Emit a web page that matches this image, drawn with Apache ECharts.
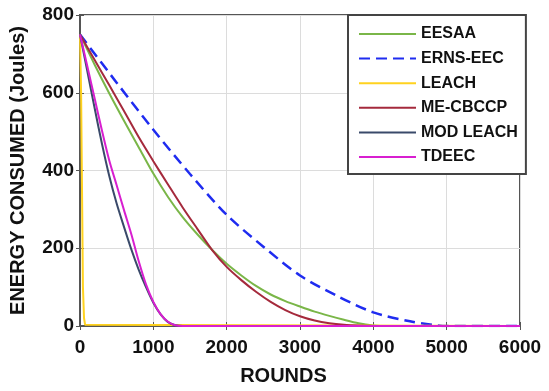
<!DOCTYPE html>
<html>
<head>
<meta charset="utf-8">
<script src="https://cdn.jsdelivr.net/npm/echarts@6/dist/echarts.min.js"></script>
<style>
html,body{margin:0;padding:0;background:#fff;}
#chart{width:549px;height:391px;}
</style>
</head>
<body>
<div id="chart"></div>
<script>
// ---- data ----
const seriesNames = ['EESAA', 'ERNS-EEC', 'LEACH', 'ME-CBCCP', 'MOD LEACH', 'TDEEC'];
const xTicks = [0, 1000, 2000, 3000, 4000, 5000, 6000];
const yTicks = [0, 200, 400, 600, 800];

const eesaaRounds = [0,200,400,600,800,1000,1200,1400,1600,1800,2000,2200,2400,2600,2800,3000,3200,3400,3600,3800,4000,4100,6000];
const eesaaEnergy = [750,672,598,528,460,392,332,280,236,196,160,130,103,81,64,50,37,26,16,7,1,0,0];

const ernsRounds = [0,500,1000,1500,2000,2500,3000,3500,4000,4500,4800,5000,6000];
const ernsEnergy = [750,626,505,391,286,204,130,78,35,12,3,0,0];

const leachRounds = [0,15,30,40,55,70,90,6000];
const leachEnergy = [750,600,300,100,20,3,0,0];

const mecbRounds = [0,200,400,600,800,1000,1200,1400,1600,1800,2000,2200,2400,2600,2800,3000,3200,3400,3600,3800,4000,6000];
const mecbEnergy = [750,684,619,553,486,424,364,305,250,196,152,118,88,62,41,25,14,7,3,1,0,0];

const modRounds = [0,100,200,300,400,500,600,700,800,900,1000,1100,1200,1300,1400,6000];
const modEnergy = [750,655,560,468,385,315,255,197,145,100,60,30,10,2,0,0];

const tdeecRounds = [0,100,200,300,400,500,600,700,800,900,1000,1100,1200,1300,1400,6000];
const tdeecEnergy = [750,668,585,502,425,362,298,236,167,107,62,30,11,2,0,0];

// ---- chart ----
const pairs = (xs, ys) => xs.map((x, i) => [x, ys[i]]);
const FONT = '"Liberation Sans", Arial, sans-serif';
const frame = '#555';

const chart = echarts.init(document.getElementById('chart'), null, {renderer: 'canvas'});

function line(name, xs, ys, color, extra) {
  return Object.assign({
    name: name,
    type: 'line',
    data: pairs(xs, ys),
    symbol: 'none',
    showSymbol: false,
    smooth: 0.3,
    animation: false,
    lineStyle: {color: color, width: 2},
    itemStyle: {color: color}
  }, extra || {});
}

chart.setOption({
  animation: false,
  backgroundColor: '#fff',
  grid: {left: 79, right: 29, top: 15, bottom: 63, show: true, borderColor: frame, borderWidth: 2, backgroundColor: 'transparent'},
  legend: {
    orient: 'vertical',
    left: 348, top: 15,
    padding: [11, 8, 9, 10],
    itemWidth: 57, itemHeight: 14, itemGap: 8.6,
    borderColor: '#444', borderWidth: 2,
    backgroundColor: '#fff',
    itemStyle: {opacity: 0},
    textStyle: {fontFamily: FONT, fontWeight: 'bold', fontSize: 16, color: '#111'},
    data: seriesNames
  },
  xAxis: [{
    type: 'value', min: 0, max: 6000, interval: 1000,
    name: 'ROUNDS', nameLocation: 'middle', nameGap: 40,
    nameTextStyle: {fontFamily: FONT, fontWeight: 'bold', fontSize: 20, color: '#111', padding: [0, 33, 0, 0]},
    axisLine: {show: true, lineStyle: {color: frame, width: 2}},
    axisTick: {show: true, inside: true, length: 4, lineStyle: {color: frame}},
    axisLabel: {fontFamily: FONT, fontWeight: 'bold', fontSize: 19, color: '#111', margin: 12,
      formatter: v => xTicks.includes(v) ? String(v) : ''},
    splitLine: {show: true, lineStyle: {color: '#dcdcdc', width: 1}}
  }, {
    type: 'value', min: 0, max: 6000, interval: 1000, position: 'top',
    axisLine: {show: false}, axisLabel: {show: false}, splitLine: {show: false},
    axisTick: {show: true, inside: true, length: 4, lineStyle: {color: frame}}
  }],
  yAxis: [{
    type: 'value', min: 0, max: 800, interval: 200,
    name: 'ENERGY CONSUMED (Joules)', nameLocation: 'middle', nameGap: 52,
    nameTextStyle: {fontFamily: FONT, fontWeight: 'bold', fontSize: 20, color: '#111'},
    axisLine: {show: true, lineStyle: {color: frame, width: 2}},
    axisTick: {show: true, inside: true, length: 4, lineStyle: {color: frame}},
    axisLabel: {fontFamily: FONT, fontWeight: 'bold', fontSize: 19, color: '#111', margin: 6,
      formatter: v => yTicks.includes(v) ? String(v) : ''},
    splitLine: {show: true, lineStyle: {color: '#dcdcdc', width: 1}}
  }, {
    type: 'value', min: 0, max: 800, interval: 200, position: 'right',
    axisLine: {show: false}, axisLabel: {show: false}, splitLine: {show: false},
    axisTick: {show: true, inside: true, length: 4, lineStyle: {color: frame}}
  }],
  series: [
    line('EESAA', eesaaRounds, eesaaEnergy, '#7ab648'),
    line('ERNS-EEC', ernsRounds, ernsEnergy, '#1f2cf0', {lineStyle: {color: '#1f2cf0', width: 2.5, type: [11, 6]}}),
    line('LEACH', leachRounds, leachEnergy, '#ffd21f', {smooth: false}),
    line('ME-CBCCP', mecbRounds, mecbEnergy, '#a52a3c'),
    line('MOD LEACH', modRounds, modEnergy, '#3a4a6a'),
    line('TDEEC', tdeecRounds, tdeecEnergy, '#d81fd0')
  ]
});
</script>
</body>
</html>
